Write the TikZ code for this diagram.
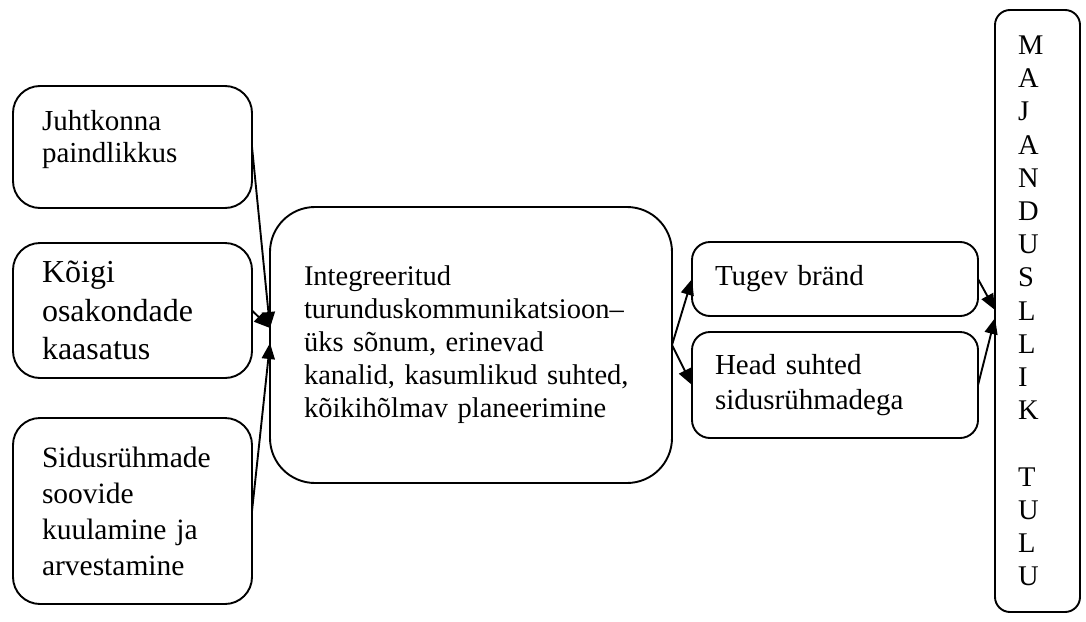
\documentclass[tikz,border=0pt]{standalone}
\usepackage{fontspec}
\setmainfont{Liberation Serif}
\usetikzlibrary{arrows.meta}
\begin{document}
\begin{tikzpicture}[x=1pt,y=-1pt,
  box/.style={draw, line width=1.9pt, rectangle, rounded corners=#1, anchor=north west,
    align=left, inner ysep=0pt, outer sep=0pt},
  box/.default=27pt,
  arr/.style={line width=1.9pt, -{Triangle[length=16pt,width=13pt]}}]
\useasboundingbox (0,0) rectangle (1086,621);

\node[box, minimum width=239pt, minimum height=122pt, text width=181pt, inner xsep=29pt,
  font=\fontsize{29}{32}\selectfont] (b1) at (13,86) {Juhtkonna\\paindlikkus\\[-10pt]\mbox{}};
\node[box, minimum width=239pt, minimum height=135pt, text width=181pt, inner xsep=29pt,
  font=\fontsize{32}{38.5}\selectfont] (b2) at (13,243) {Kõigi\\osakondade\\kaasatus};
\node[box, minimum width=239pt, minimum height=186pt, text width=181pt, inner xsep=29pt,
  font=\fontsize{29.5}{36}\selectfont] (b3) at (13,418) {Sidusrühmade\\soovide\\kuulamine ja\\arvestamine};

\node[box=45pt, minimum width=402pt, minimum height=276pt, text width=334pt, inner xsep=34pt,
  font=\fontsize{28.5}{33}\selectfont] (mid) at (270,207)
  {Integreeritud\\turunduskommunikatsioon–\\üks sõnum, erinevad\\kanalid, kasumlikud suhted,\\kõikihõlmav planeerimine};

\node[box=18pt, minimum width=286pt, minimum height=74pt, text width=240pt, inner xsep=23pt,
  font=\fontsize{29}{35}\selectfont] (tug) at (692,242) {Tugev bränd};
\node[box=18pt, minimum width=286pt, minimum height=106pt, text width=240pt, inner xsep=23pt,
  font=\fontsize{29}{35}\selectfont] (head) at (692,332) {Head suhted\\sidusrühmadega};

\node[box=15pt, minimum width=85pt, minimum height=602pt, text width=39pt, inner xsep=23pt,
  font=\fontsize{28.5}{33.2}\selectfont] (tall) at (995,10)
  {M\\A\\J\\A\\N\\D\\U\\S\\L\\L\\I\\K\\\mbox{}\\T\\U\\L\\U};

\draw[arr] (b1.east) -- ([yshift=17pt]mid.west);
\draw[arr] (b2.east) -- ([yshift=17pt]mid.west);
\draw[arr] (b3.east) -- ([yshift=2pt]mid.west);
\draw[arr] (mid.east) -- (tug.west);
\draw[arr] (mid.east) -- (head.west);
\draw[arr] (tug.east) -- ([yshift=1pt]tall.west);
\draw[arr] (head.east) -- ([yshift=-7pt]tall.west);
\end{tikzpicture}
\end{document}
